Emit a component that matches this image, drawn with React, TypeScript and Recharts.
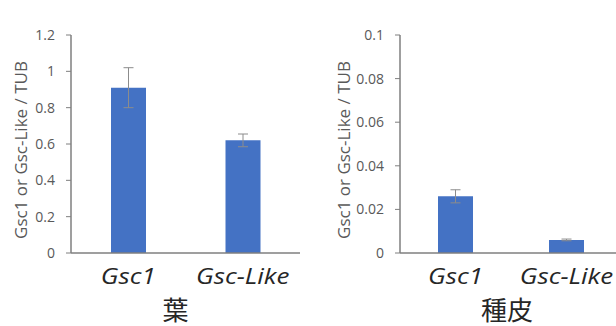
import { BarChart, Bar, XAxis, YAxis, ErrorBar, Label } from "recharts";

// 葉 (leaf)
const leafGenes = ["Gsc1", "Gsc-Like"];
const leafValues = [0.91, 0.62];
const leafErrors = [0.11, 0.035];
const leafTicks = [0, 0.2, 0.4, 0.6, 0.8, 1, 1.2];

// 種皮 (seed coat)
const coatGenes = ["Gsc1", "Gsc-Like"];
const coatValues = [0.026, 0.006];
const coatErrors = [0.003, 0.0004];
const coatTicks = [0, 0.02, 0.04, 0.06, 0.08, 0.1];

const yTitle = "Gsc1 or Gsc-Like / TUB";

const BAR_COLOR = "#4472C4";
const AXIS_COLOR = "#7f7f7f";
const TICK_COLOR = "#595959";
const TEXT_COLOR = "#262626";
const FONT = "'Open Sans', Lato, sans-serif";

const GeneTick = (props: any) => {
    const { x, y, payload } = props;
    // label font in the original is wider than anything installed, so stretch it a bit
    return (
        <g transform={`translate(${x}, ${y + 23}) scale(1.18, 1)`}>
            <text
                x={0}
                y={0}
                textAnchor="middle"
                fontSize={22}
                fontStyle="italic"
                fontFamily={FONT}
                fill={TEXT_COLOR}
            >
                {payload.value}
            </text>
        </g>
    );
};

const groupLabel = (text: string, dx: number) => (props: any) => {
    const { viewBox } = props;
    return (
        <text
            x={viewBox.x + viewBox.width / 2 + dx}
            y={viewBox.y + 67}
            textAnchor="middle"
            fontSize={26}
            fontFamily="'Noto Sans CJK JP', sans-serif"
            fill={TEXT_COLOR}
        >
            {text}
        </text>
    );
};

const yLabel = (cx: number) => (props: any) => {
    const { viewBox } = props;
    const cy = viewBox.y + viewBox.height / 2 + 6;
    return (
        <text
            x={cx}
            y={cy}
            transform={`rotate(-90, ${cx}, ${cy})`}
            textAnchor="middle"
            dominantBaseline="central"
            fontSize={17}
            fontFamily={FONT}
            fill={TICK_COLOR}
        >
            {yTitle}
        </text>
    );
};

interface PanelProps {
    genes: string[];
    values: number[];
    errors: number[];
    ticks: number[];
    group: string;
    width: number;
    yAxisWidth: number;
    rightMargin: number;
    yLabelX: number;
    groupDx: number;
}

function Panel({ genes, values, errors, ticks, group, width, yAxisWidth, rightMargin, yLabelX, groupDx }: PanelProps) {
    const data = genes.map((gene, i) => ({ gene, value: values[i], err: errors[i] }));
    const max = ticks[ticks.length - 1];
    return (
        <BarChart width={width} height={326} data={data} margin={{ top: 35, right: rightMargin, left: 0, bottom: 0 }}>
            <XAxis
                dataKey="gene"
                height={73}
                tick={<GeneTick />}
                tickLine={false}
                axisLine={{ stroke: AXIS_COLOR, strokeWidth: 1.5 }}
                interval={0}
            >
                <Label content={groupLabel(group, groupDx)} />
            </XAxis>
            <YAxis
                width={yAxisWidth}
                domain={[0, max]}
                ticks={ticks}
                interval={0}
                tickSize={5}
                tickMargin={11}
                tick={{ fill: TICK_COLOR, fontSize: 14, fontFamily: FONT }}
                tickLine={{ stroke: AXIS_COLOR }}
                axisLine={{ stroke: AXIS_COLOR, strokeWidth: 1.5 }}
                tickFormatter={(v: number) => String(v)}
            >
                <Label content={yLabel(yLabelX)} />
            </YAxis>
            <Bar dataKey="value" fill={BAR_COLOR} barSize={35} isAnimationActive={false}>
                <ErrorBar dataKey="err" width={5} stroke="#8c8c8c" strokeWidth={1} direction="y" />
            </Bar>
        </BarChart>
    );
}

export default function App() {
    return (
        <div
            style={{
                position: "absolute",
                left: 0,
                top: 0,
                width: 616,
                height: 326,
                overflow: "hidden",
                background: "#fff",
            }}
        >
            <div style={{ position: "absolute", left: 0, top: 0 }}>
                <Panel
                    genes={leafGenes}
                    values={leafValues}
                    errors={leafErrors}
                    ticks={leafTicks}
                    group="葉"
                    width={308}
                    yAxisWidth={71}
                    rightMargin={8}
                    yLabelX={20}
                    groupDx={-10}
                />
            </div>
            <div style={{ position: "absolute", left: 308, top: 0 }}>
                <Panel
                    genes={coatGenes}
                    values={coatValues}
                    errors={coatErrors}
                    ticks={coatTicks}
                    group="種皮"
                    width={314}
                    yAxisWidth={92}
                    rightMargin={0}
                    yLabelX={35}
                    groupDx={-4}
                />
            </div>
        </div>
    );
}
